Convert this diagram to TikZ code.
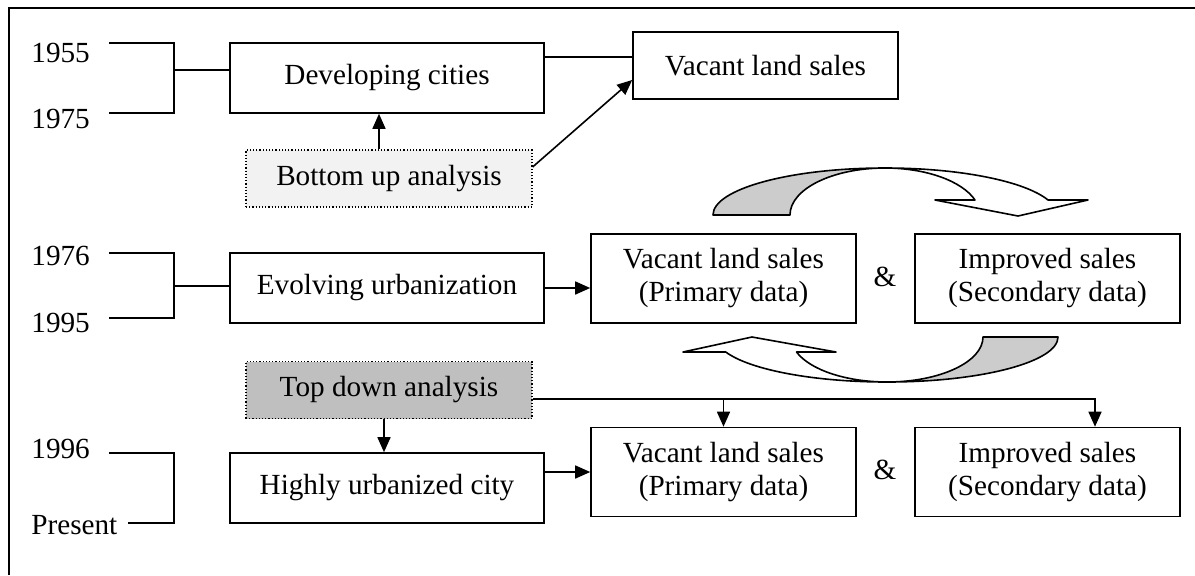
\documentclass[tikz,border=0pt]{standalone}
\usepackage{fontspec}
\setmainfont{Liberation Serif}
\usetikzlibrary{arrows.meta, calc}
\definecolor{bupgray}{HTML}{F2F2F2}
\definecolor{tdngray}{HTML}{BFBFBF}
\definecolor{curvegray}{HTML}{CCCCCC}
\tikzset{
	x=0.5pt, y=-0.5pt,
	>={Triangle[length=7.5pt,width=6.5pt]},
	box/.style={draw, line width=0.8pt, minimum width=157pt, minimum height=35pt, inner sep=0pt},
	salebox/.style={draw, line width=0.8pt, minimum width=132.5pt, minimum height=44.5pt, align=center, inner sep=0pt},
	anabox/.style={draw, densely dotted, line width=0.6pt, minimum width=143pt, minimum height=28.5pt, inner sep=0pt},
	yearlab/.style={anchor=base west, inner sep=0pt},
	link/.style={line width=0.8pt},
	curve/.style={line width=0.8pt, line join=round}
}

\begin{document}
\begin{tikzpicture}[font=\fontsize{14.6pt}{16.5pt}\selectfont]
	\useasboundingbox (0,0) rectangle (1195,575);
	% frame
	\draw[line width=1.1pt] (9,575) -- (9,8) -- (1195,8);

	% boxes
	\node[box] (dev) at (387,78) {Developing cities};
	\node[draw, line width=0.8pt, minimum width=132.5pt, minimum height=33.5pt] (vac) at (765.5,65.5) {Vacant land sales};
	\node[anabox, fill=bupgray] (bup) at (389,178.5) {Bottom up analysis};
	\node[box] (evo) at (387,288) {Evolving urbanization};
	\node[salebox] (prim1) at (723.5,278.5) {Vacant land sales\\(Primary data)};
	\node (amp1) at (885,277) {\&};
	\node[salebox] (impr1) at (1047.5,278.5) {Improved sales\\(Secondary data)};
	\node[anabox, fill=tdngray] (tdn) at (389,390) {Top down analysis};
	\node[box] (high) at (387,488) {Highly urbanized city};
	\node[salebox] (prim2) at (723.5,472) {Vacant land sales\\(Primary data)};
	\node (amp2) at (885,470) {\&};
	\node[salebox] (impr2) at (1047.5,472) {Improved sales\\(Secondary data)};

	% years
	\node[yearlab] (y1955) at (31,62) {1955};
	\node[yearlab] (y1975) at (31,128) {1975};
	\node[yearlab] (y1976) at (31,265) {1976};
	\node[yearlab] (y1995) at (31,332) {1995};
	\node[yearlab] (y1996) at (31,458) {1996};
	\node[yearlab] (ypres) at (31,534) {Present};

	% brackets
	\coordinate (br1) at (174,70);
	\coordinate (br2) at (174,286);
	\draw[link] (109,43) -| (174,113) -- (109,113);
	\draw[link] (br1) -- (br1 -| dev.west);
	\draw[link] (109,253) -| (174,318) -- (109,318);
	\draw[link] (br2) -- (br2 -| evo.west);
	\draw[link] (109,453) -| (174,523) -- (128,523);

	% connectors
	\draw[link] ([yshift=10.5pt]dev.east) -- ([yshift=10.5pt]dev.east -| vac.west);
	\draw[link,->] ([xshift=-5pt]bup.north) -- ([xshift=-5pt]bup.north |- dev.south);
	\draw[link,->] ([yshift=5.75pt]bup.east) -- ([yshift=-7.25pt]vac.west);
	\draw[link,->] (evo.east) -- (evo.east -| prim1.west);
	\draw[link,->] ([xshift=-2.5pt]tdn.south) -- ([xshift=-2.5pt]tdn.south |- high.north);
	\coordinate (tdline) at ([yshift=-4.5pt]tdn.east);
	\draw[link,->] (tdline) -| ([xshift=23.75pt]impr2.north);
	\draw[link,->] (tdline -| prim2.north) -- (prim2.north);
	\draw[link,->] (prim2.west -| high.east) -- (prim2.west);

	% curved arrow, top
	\filldraw[curve, fill=curvegray] (713,215) arc[start angle=180, end angle=270, x radius=172, y radius=47]
		arc[start angle=270, end angle=180, x radius=95, y radius=47] -- cycle;
	\filldraw[curve, fill=white] (885,168) arc[start angle=270, end angle=341.4, x radius=172, y radius=47]
		-- (1088,200) -- (1018,216) -- (935,200) -- (975,200)
		arc[start angle=341.4, end angle=270, x radius=95, y radius=47] -- cycle;

	% curved arrow, bottom
	\filldraw[curve, fill=curvegray] (1058,337) arc[start angle=0, end angle=90, x radius=171, y radius=45]
		arc[start angle=90, end angle=0, x radius=96, y radius=45] -- cycle;
	\filldraw[curve, fill=white] (887,382) arc[start angle=90, end angle=160.5, x radius=171, y radius=45]
		-- (683,352) -- (752,337) -- (836,352) -- (796.5,352)
		arc[start angle=160.5, end angle=90, x radius=96, y radius=45] -- cycle;
\end{tikzpicture}
\end{document}
